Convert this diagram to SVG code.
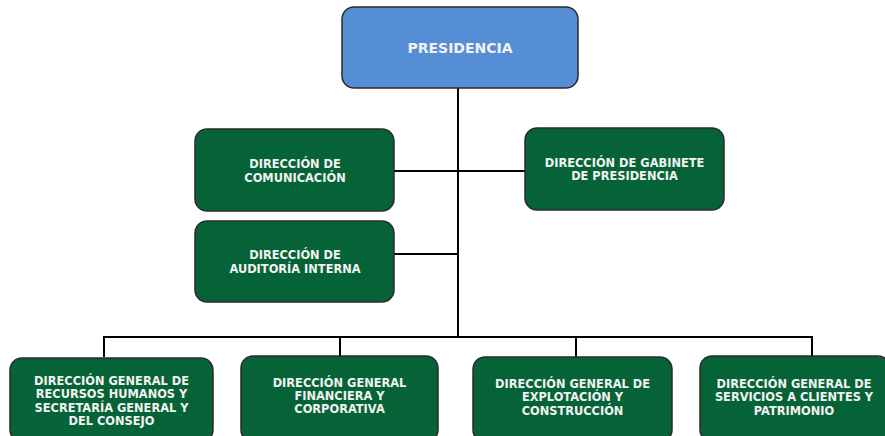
<svg xmlns="http://www.w3.org/2000/svg" width="885" height="436" viewBox="0 0 885 436">
<style>
.box{fill:#056337;stroke:#2b2b2b;stroke-width:1.5}
.top{fill:#558ED5;stroke:#2b2b2b;stroke-width:1.5}
.t{font-family:"DejaVu Sans",Verdana,sans-serif;font-weight:bold;font-size:11.4px;fill:#F2F2F2;text-anchor:middle}
.tp{font-size:14px}
.c{fill:none;stroke:#000;stroke-width:2}
</style>
<rect width="885" height="436" fill="#fff"/>
<g id="connectors">
<path class="c" d="M458 88V337"/>
<path class="c" d="M394 171H525"/>
<path class="c" d="M394 254H458"/>
<path class="c" d="M104 357V337H812V357"/>
<path class="c" d="M340 337V356"/>
<path class="c" d="M576 337V357"/>
</g>
<g id="presidencia">
<rect class="top" x="342" y="7" width="236" height="81" rx="12"/>
<text class="t tp" x="460" y="53">PRESIDENCIA</text>
</g>
<g id="comunicacion">
<rect class="box" x="195" y="129" width="199" height="82" rx="12"/>
<text class="t" x="295" y="168">DIRECCIÓN DE</text>
<text class="t" x="295" y="182">COMUNICACIÓN</text>
</g>
<g id="gabinete">
<rect class="box" x="525" y="128" width="199" height="82" rx="12"/>
<text class="t" x="624.5" y="167">DIRECCIÓN DE GABINETE</text>
<text class="t" x="624.5" y="180">DE PRESIDENCIA</text>
</g>
<g id="auditoria">
<rect class="box" x="195" y="221" width="199" height="81" rx="12"/>
<text class="t" x="295" y="259">DIRECCIÓN DE</text>
<text class="t" x="295" y="273">AUDITORÍA INTERNA</text>
</g>
<g id="rrhh">
<rect class="box" x="10" y="358" width="203" height="84" rx="12"/>
<text class="t" x="111.5" y="385">DIRECCIÓN GENERAL DE</text>
<text class="t" x="111.5" y="398">RECURSOS HUMANOS Y</text>
<text class="t" x="111.5" y="412">SECRETARÍA GENERAL Y</text>
<text class="t" x="111.5" y="425">DEL CONSEJO</text>
</g>
<g id="financiera">
<rect class="box" x="241" y="356" width="197" height="86" rx="12"/>
<text class="t" x="339.5" y="387">DIRECCIÓN GENERAL</text>
<text class="t" x="339.5" y="400">FINANCIERA Y</text>
<text class="t" x="339.5" y="413">CORPORATIVA</text>
</g>
<g id="explotacion">
<rect class="box" x="473" y="357" width="199" height="85" rx="12"/>
<text class="t" x="572.5" y="388">DIRECCIÓN GENERAL DE</text>
<text class="t" x="572.5" y="401">EXPLOTACIÓN Y</text>
<text class="t" x="572.5" y="415">CONSTRUCCIÓN</text>
</g>
<g id="servicios">
<rect class="box" x="700" y="356" width="190" height="86" rx="12"/>
<text class="t" x="794" y="388">DIRECCIÓN GENERAL DE</text>
<text class="t" x="794" y="401">SERVICIOS A CLIENTES Y</text>
<text class="t" x="794" y="415">PATRIMONIO</text>
</g>
</svg>
